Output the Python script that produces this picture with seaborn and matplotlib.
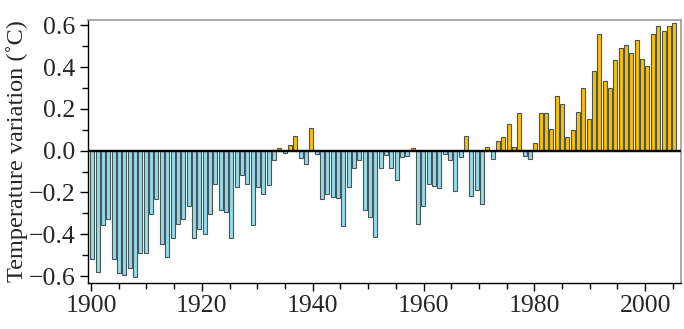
import numpy as np
import pandas as pd
import seaborn as sns
import matplotlib.pyplot as plt
from matplotlib.ticker import MultipleLocator, FixedLocator

# annual temperature variation, one bar per year (left to right)
temp_var = [
    -0.52, -0.58, -0.355, -0.325, -0.52, -0.585, -0.595, -0.56, -0.605, -0.49,
    -0.49, -0.305, -0.23, -0.447, -0.508, -0.417, -0.352, -0.325, -0.267, -0.416,
    -0.374, -0.398, -0.304, -0.16, -0.285, -0.295, -0.416, -0.175, -0.118, -0.159,
    -0.356, -0.175, -0.206, -0.166, -0.045, 0.014, -0.01, 0.025, 0.072, -0.036,
    -0.064, 0.107, -0.016, -0.23, -0.207, -0.222, -0.225, -0.36, -0.175, -0.083,
    -0.043, -0.284, -0.317, -0.411, -0.084, -0.021, -0.084, -0.14, -0.032, -0.024,
    0.011, -0.352, -0.265, -0.161, -0.167, -0.18, -0.017, -0.046, -0.191, -0.032,
    0.069, -0.217, -0.187, -0.257, 0.016, -0.041, 0.048, 0.067, 0.126, 0.016,
    0.179, -0.025, -0.041, 0.038, 0.179, 0.179, 0.104, 0.263, 0.222, 0.066,
    0.099, 0.184, 0.298, 0.15, 0.38, 0.56, 0.335, 0.298, 0.434, 0.49,
    0.507, 0.467, 0.53, 0.44, 0.405, 0.56, 0.598, 0.574, 0.595, 0.612,
]
year_labels = [1900, 1920, 1940, 1960, 1980, 2000]

blue = "#94dcec"
gold = "#fcbf00"

df = pd.DataFrame({"bar": np.arange(len(temp_var)), "temp": temp_var})
df["sign"] = np.where(df["temp"] >= 0, "warm", "cool")

sns.set_style("ticks")
plt.rcParams["font.family"] = ["Liberation Serif", "DejaVu Serif"]

fig, ax = plt.subplots(figsize=(6.84, 3.29), dpi=100)
fig.subplots_adjust(left=0.129, right=0.995, top=0.939, bottom=0.14)

sns.barplot(data=df, x="bar", y="temp", hue="sign", native_scale=True,
            palette={"cool": blue, "warm": gold}, dodge=False, width=0.75,
            saturation=1, edgecolor="#4a5558", linewidth=0.8, legend=False, ax=ax)

ax.axhline(0, color="black", lw=1.7, zorder=5)

# bars sit slightly tighter than one per year, so map years onto bar positions
def year_pos(y):
    return -0.28 + (y - 1900) * 1.0385

ax.set_xlim(-0.79, 110.2)
ax.xaxis.set_major_locator(FixedLocator([year_pos(y) for y in year_labels]))
ax.set_xticklabels([str(y) for y in year_labels])
ax.xaxis.set_minor_locator(FixedLocator([year_pos(y) for y in range(1900, 2010, 5)]))

ax.set_ylim(-0.633, 0.625)
ax.yaxis.set_minor_locator(MultipleLocator(0.1))
ax.set_yticks([-0.6, -0.4, -0.2, 0.0, 0.2, 0.4, 0.6])
ax.set_yticklabels(["\u22120.6", "\u22120.4", "\u22120.2", "0.0", "0.2", "0.4", "0.6"])

ax.tick_params(axis="both", which="major", labelsize=18.5, length=6, width=1,
               color="black", direction="out", pad=3)
ax.tick_params(axis="both", which="minor", length=4, width=1, color="black")

ax.set_xlabel("")
ax.set_ylabel("Temperature variation (\u02daC)", fontsize=17.5, labelpad=1)

for side in ["left", "bottom"]:
    ax.spines[side].set_color("black")
    ax.spines[side].set_linewidth(1)
for side in ["top", "right"]:
    ax.spines[side].set_visible(True)
    ax.spines[side].set_color("#9a9a9a")
    ax.spines[side].set_linewidth(1.2)

plt.savefig("out.png", dpi=100)
